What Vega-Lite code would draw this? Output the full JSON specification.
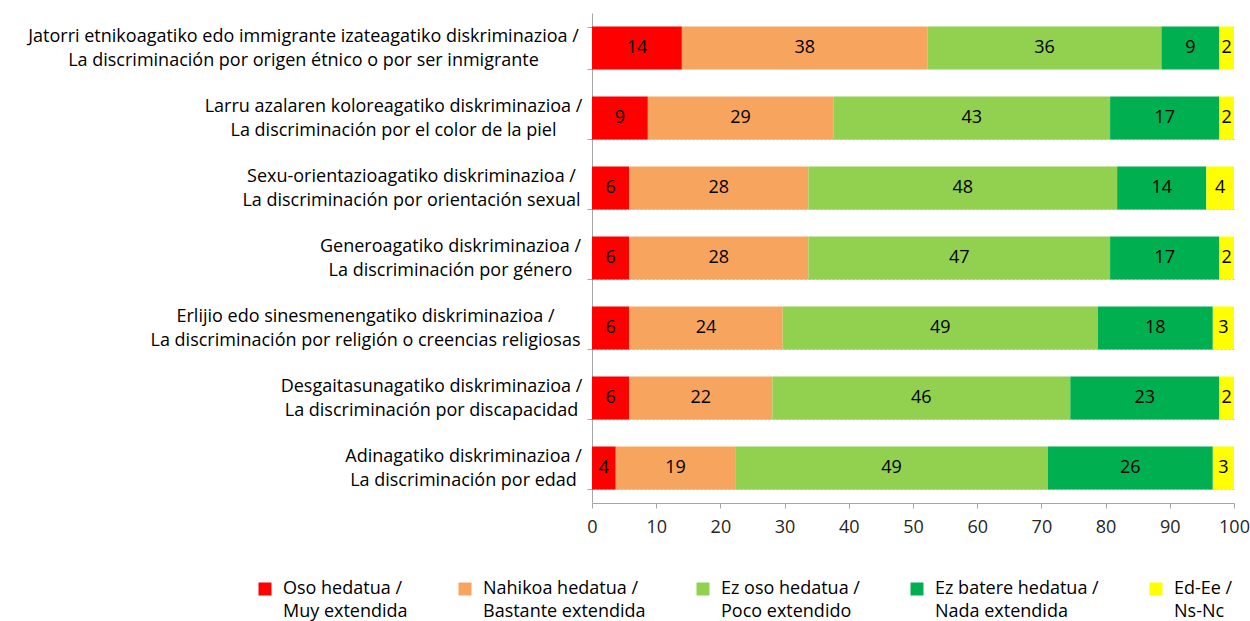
{
  "$schema": "https://vega.github.io/schema/vega-lite/v6.json",
  "width": 642,
  "height": 490,
  "autosize": "none",
  "padding": {"left": 592, "top": 13, "right": 16, "bottom": 118},
  "background": "white",
  "config": {"view": {"stroke": null}, "font": "Open Sans"},
  "data": {"values": [
    {"c": "Jatorri etnikoagatiko edo immigrante izateagatiko diskriminazioa /|La discriminación por origen étnico o por ser inmigrante", "r": "Oso hedatua /|Muy extendida", "k": 1, "v": 14.0},
    {"c": "Jatorri etnikoagatiko edo immigrante izateagatiko diskriminazioa /|La discriminación por origen étnico o por ser inmigrante", "r": "Nahikoa hedatua /|Bastante extendida", "k": 2, "v": 38.3},
    {"c": "Jatorri etnikoagatiko edo immigrante izateagatiko diskriminazioa /|La discriminación por origen étnico o por ser inmigrante", "r": "Ez oso hedatua /|Poco extendido", "k": 3, "v": 36.4},
    {"c": "Jatorri etnikoagatiko edo immigrante izateagatiko diskriminazioa /|La discriminación por origen étnico o por ser inmigrante", "r": "Ez batere hedatua /|Nada extendida", "k": 4, "v": 9.0},
    {"c": "Jatorri etnikoagatiko edo immigrante izateagatiko diskriminazioa /|La discriminación por origen étnico o por ser inmigrante", "r": "Ed-Ee /|Ns-Nc", "k": 5, "v": 2.3},
    {"c": "Larru azalaren koloreagatiko diskriminazioa /|La discriminación por el color de la piel", "r": "Oso hedatua /|Muy extendida", "k": 1, "v": 8.7},
    {"c": "Larru azalaren koloreagatiko diskriminazioa /|La discriminación por el color de la piel", "r": "Nahikoa hedatua /|Bastante extendida", "k": 2, "v": 28.9},
    {"c": "Larru azalaren koloreagatiko diskriminazioa /|La discriminación por el color de la piel", "r": "Ez oso hedatua /|Poco extendido", "k": 3, "v": 43.1},
    {"c": "Larru azalaren koloreagatiko diskriminazioa /|La discriminación por el color de la piel", "r": "Ez batere hedatua /|Nada extendida", "k": 4, "v": 17.0},
    {"c": "Larru azalaren koloreagatiko diskriminazioa /|La discriminación por el color de la piel", "r": "Ed-Ee /|Ns-Nc", "k": 5, "v": 2.3},
    {"c": "Sexu-orientazioagatiko diskriminazioa /|La discriminación por orientación sexual", "r": "Oso hedatua /|Muy extendida", "k": 1, "v": 5.8},
    {"c": "Sexu-orientazioagatiko diskriminazioa /|La discriminación por orientación sexual", "r": "Nahikoa hedatua /|Bastante extendida", "k": 2, "v": 27.9},
    {"c": "Sexu-orientazioagatiko diskriminazioa /|La discriminación por orientación sexual", "r": "Ez oso hedatua /|Poco extendido", "k": 3, "v": 48.1},
    {"c": "Sexu-orientazioagatiko diskriminazioa /|La discriminación por orientación sexual", "r": "Ez batere hedatua /|Nada extendida", "k": 4, "v": 13.9},
    {"c": "Sexu-orientazioagatiko diskriminazioa /|La discriminación por orientación sexual", "r": "Ed-Ee /|Ns-Nc", "k": 5, "v": 4.3},
    {"c": "Generoagatiko diskriminazioa /|La discriminación por género", "r": "Oso hedatua /|Muy extendida", "k": 1, "v": 5.8},
    {"c": "Generoagatiko diskriminazioa /|La discriminación por género", "r": "Nahikoa hedatua /|Bastante extendida", "k": 2, "v": 27.9},
    {"c": "Generoagatiko diskriminazioa /|La discriminación por género", "r": "Ez oso hedatua /|Poco extendido", "k": 3, "v": 47.0},
    {"c": "Generoagatiko diskriminazioa /|La discriminación por género", "r": "Ez batere hedatua /|Nada extendida", "k": 4, "v": 17.0},
    {"c": "Generoagatiko diskriminazioa /|La discriminación por género", "r": "Ed-Ee /|Ns-Nc", "k": 5, "v": 2.3},
    {"c": "Erlijio edo sinesmenengatiko diskriminazioa /|La discriminación por religión o creencias religiosas", "r": "Oso hedatua /|Muy extendida", "k": 1, "v": 5.8},
    {"c": "Erlijio edo sinesmenengatiko diskriminazioa /|La discriminación por religión o creencias religiosas", "r": "Nahikoa hedatua /|Bastante extendida", "k": 2, "v": 23.9},
    {"c": "Erlijio edo sinesmenengatiko diskriminazioa /|La discriminación por religión o creencias religiosas", "r": "Ez oso hedatua /|Poco extendido", "k": 3, "v": 49.1},
    {"c": "Erlijio edo sinesmenengatiko diskriminazioa /|La discriminación por religión o creencias religiosas", "r": "Ez batere hedatua /|Nada extendida", "k": 4, "v": 17.9},
    {"c": "Erlijio edo sinesmenengatiko diskriminazioa /|La discriminación por religión o creencias religiosas", "r": "Ed-Ee /|Ns-Nc", "k": 5, "v": 3.3},
    {"c": "Desgaitasunagatiko diskriminazioa /|La discriminación por discapacidad", "r": "Oso hedatua /|Muy extendida", "k": 1, "v": 5.8},
    {"c": "Desgaitasunagatiko diskriminazioa /|La discriminación por discapacidad", "r": "Nahikoa hedatua /|Bastante extendida", "k": 2, "v": 22.3},
    {"c": "Desgaitasunagatiko diskriminazioa /|La discriminación por discapacidad", "r": "Ez oso hedatua /|Poco extendido", "k": 3, "v": 46.4},
    {"c": "Desgaitasunagatiko diskriminazioa /|La discriminación por discapacidad", "r": "Ez batere hedatua /|Nada extendida", "k": 4, "v": 23.2},
    {"c": "Desgaitasunagatiko diskriminazioa /|La discriminación por discapacidad", "r": "Ed-Ee /|Ns-Nc", "k": 5, "v": 2.3},
    {"c": "Adinagatiko diskriminazioa /|La discriminación por edad", "r": "Oso hedatua /|Muy extendida", "k": 1, "v": 3.7},
    {"c": "Adinagatiko diskriminazioa /|La discriminación por edad", "r": "Nahikoa hedatua /|Bastante extendida", "k": 2, "v": 18.6},
    {"c": "Adinagatiko diskriminazioa /|La discriminación por edad", "r": "Ez oso hedatua /|Poco extendido", "k": 3, "v": 48.7},
    {"c": "Adinagatiko diskriminazioa /|La discriminación por edad", "r": "Ez batere hedatua /|Nada extendida", "k": 4, "v": 25.7},
    {"c": "Adinagatiko diskriminazioa /|La discriminación por edad", "r": "Ed-Ee /|Ns-Nc", "k": 5, "v": 3.3}
  ]},
  "encoding": {
    "y": {
      "field": "c", "type": "nominal", "sort": null, "title": null,
      "scale": {"paddingInner": 0.386, "paddingOuter": 0.193},
      "axis": {
        "tickBand": "extent",
        "grid": true,
        "gridDash": [2, 2],
        "gridColor": "#bdbdbd",
        "gridOpacity": {"expr": "substring(datum.value, 0, 4) == 'Jato' ? 0 : 1"},
        "domainColor": "#a6a6a6",
        "tickColor": "#a6a6a6",
        "tickSize": 5,
        "labelExpr": "split(datum.label, '|')",
        "labelAlign": "center",
        "labelOffset": -12,
        "labelPadding": {"expr": "substring(datum.value,0,4)=='Jato' ? 284 : substring(datum.value,0,4)=='Larr' ? 194 : substring(datum.value,0,4)=='Sexu' ? 176 : substring(datum.value,0,4)=='Gene' ? 137 : substring(datum.value,0,4)=='Erli' ? 222 : substring(datum.value,0,4)=='Desg' ? 156 : 124"},
        "labelFontSize": 18,
        "labelColor": "#000000",
        "labelLineHeight": 24,
        "labelLimit": 1000
      }
    },
    "order": {"field": "k", "type": "quantitative"}
  },
  "layer": [
    {
      "mark": {"type": "bar"},
      "encoding": {
        "x": {
          "field": "v", "type": "quantitative", "stack": "zero", "title": null,
          "scale": {"domain": [0, 100], "nice": false},
          "axis": {
            "values": [0, 10, 20, 30, 40, 50, 60, 70, 80, 90, 100],
            "grid": false,
            "domainColor": "#a6a6a6",
            "tickColor": "#a6a6a6",
            "tickSize": 5,
            "labelFontSize": 18,
            "labelColor": "#262626",
            "labelPadding": 10,
            "labelFlush": false
          }
        },
        "color": {
          "field": "r", "type": "nominal", "title": null,
          "scale": {
            "domain": ["Oso hedatua /|Muy extendida", "Nahikoa hedatua /|Bastante extendida", "Ez oso hedatua /|Poco extendido", "Ez batere hedatua /|Nada extendida", "Ed-Ee /|Ns-Nc"],
            "range": ["#FF0000", "#F7A55E", "#92D050", "#00B050", "#FFFF00"]
          },
          "legend": {
            "orient": "none",
            "legendX": -336,
            "legendY": 567,
            "direction": "horizontal",
            "columns": 5,
            "columnPadding": 48,
            "padding": 0,
            "symbolType": "square",
            "symbolSize": 169,
            "symbolStrokeWidth": 0,
            "symbolOpacity": 1,
            "labelFontSize": 18,
            "labelColor": "#000000",
            "labelExpr": "split(datum.label, '|')",
            "labelOffset": 9,
            "labelLimit": 400,
            "encoding": {"labels": {"lineHeight": {"value": 23}}}
          }
        }
      }
    },
    {
      "mark": {"type": "text", "fontSize": 18, "color": "#000000"},
      "encoding": {
        "x": {"field": "v", "type": "quantitative", "stack": "zero", "bandPosition": 0.5},
        "detail": {"field": "r", "type": "nominal"},
        "text": {"field": "v", "type": "quantitative", "format": ".0f"}
      }
    }
  ]
}
